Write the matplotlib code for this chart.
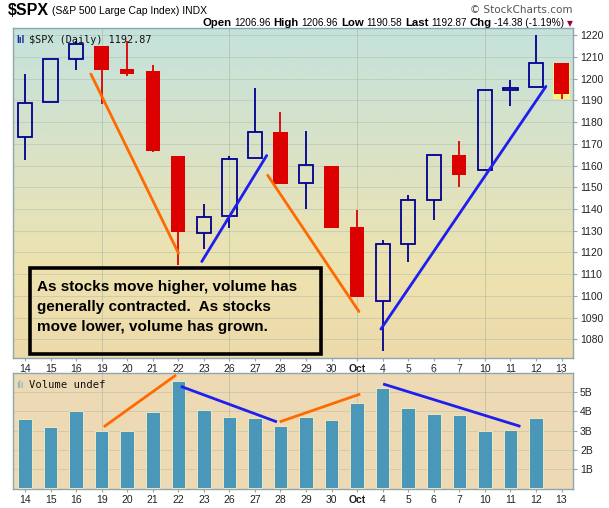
import numpy as np
import matplotlib.pyplot as plt
from matplotlib.colors import LinearSegmentedColormap
from matplotlib.patches import Rectangle
from matplotlib.offsetbox import TextArea, HPacker, AnnotationBbox

plt.rcParams['font.family'] = ['Liberation Sans', 'DejaVu Sans']

# --- data ---
dates = ['14', '15', '16', '19', '20', '21', '22', '23', '26', '27', '28', '29',
         '30', 'Oct', '4', '5', '6', '7', '10', '11', '12', '13']
opens = [1173.2, 1189.2, 1209.0, 1215.1, 1204.5, 1203.6, 1164.6, 1129.1, 1136.7, 1163.5, 1175.5,
         1152.0, 1160.0, 1131.5, 1097.7, 1123.9, 1144.2, 1165.0, 1157.8, 1194.6, 1196.0, 1206.96]
highs = [1202.2, 1209.0, 1217.4, 1215.1, 1217.4, 1206.4, 1164.6, 1142.1, 1164.6, 1195.7, 1184.6,
         1176.1, 1160.0, 1139.3, 1125.6, 1146.2, 1165.4, 1171.5, 1194.7, 1199.5, 1220.1, 1206.96]
lows = [1162.4, 1189.2, 1204.1, 1188.3, 1201.0, 1166.4, 1114.1, 1121.7, 1131.1, 1163.5, 1151.3,
        1139.8, 1131.1, 1099.5, 1074.7, 1115.6, 1134.7, 1150.0, 1157.8, 1187.2, 1196.0, 1190.58]
closes = [1188.8, 1209.0, 1215.9, 1203.8, 1201.9, 1166.6, 1129.4, 1136.4, 1163.1, 1175.5, 1151.3,
          1160.1, 1131.1, 1099.5, 1123.9, 1144.2, 1164.7, 1155.5, 1194.7, 1195.8, 1207.1, 1192.87]
volume_b = [3.60, 3.18, 4.02, 2.99, 2.99, 3.97, 5.59, 4.07, 3.71, 3.65, 3.24, 3.71,
            3.55, 4.44, 5.23, 4.18, 3.87, 3.81, 2.99, 3.04, 3.65]

# hand-drawn trend lines: (x0, y0, x1, y1, colour)
price_lines = [(2.58, 1202.1, 6.01, 1119.6, 'orange'), (6.92, 1115.8, 9.46, 1164.6, 'blue'),
               (9.50, 1155.5, 13.07, 1092.8, 'orange'), (13.93, 1084.7, 20.39, 1196.4, 'blue')]
volume_lines = [(3.13, 3.24, 5.87, 5.87, 'orange'), (6.15, 5.29, 9.81, 3.48, 'blue'),
                (10.02, 3.48, 13.07, 4.89, 'orange'), (14.07, 5.42, 19.34, 3.24, 'blue')]
price_ticks = list(range(1080, 1221, 10))
volume_ticks = [1, 2, 3, 4, 5]
monday_idx = [3, 8, 13, 18]

RED = '#dd0000'
NAVY = '#00008e'
LINE_COLORS = {'orange': '#ff6a00', 'blue': '#1e1ef0'}
SPINE = '#8fa6ad'
GRID = '#a9b8a8'

fig = plt.figure(figsize=(6.09, 5.08), dpi=100)
W, H = 609, 508
ax = fig.add_axes([13 / W, 1 - 358 / H, 560 / W, 330 / H])
axv = fig.add_axes([13 / W, 1 - 489 / H, 560 / W, 115.7 / H])
x = np.arange(len(dates))

# background gradient for price panel
grad = LinearSegmentedColormap.from_list(
    'bg', [(0, '#eedaaa'), (0.28, '#ede3b0'), (0.55, '#dee2c2'), (1, '#c4e2dc')])
ax.imshow(np.linspace(0, 1, 256).reshape(-1, 1), cmap=grad, origin='lower',
          extent=[0, 1, 0, 1], transform=ax.transAxes, aspect='auto', zorder=0)
axv.set_facecolor('#eddab4')

# candles
bw = 0.56
for i in x:
    o, h, l, c = opens[i], highs[i], lows[i], closes[i]
    lo_b, hi_b = min(o, c), max(o, c)
    if i == len(x) - 1:
        ax.bar(i, h - l, bottom=l, width=bw + 0.12, color='#fff27a', zorder=2)
    if c >= o:
        ax.bar(i, max(hi_b - lo_b, 0.4), bottom=lo_b, width=bw, facecolor='none',
               edgecolor=NAVY, linewidth=1.3, zorder=3)
        col = NAVY
    else:
        ax.bar(i, hi_b - lo_b, bottom=lo_b, width=bw, color=RED, linewidth=0, zorder=3)
        col = RED
    if h > hi_b:
        ax.vlines(i, hi_b, h, color=col, linewidth=1.3, zorder=3)
    if l < lo_b:
        ax.vlines(i, l, lo_b, color=col, linewidth=1.3, zorder=3)

for x0, y0, x1, y1, c in price_lines:
    ax.plot([x0, x1], [y0, y1], color=LINE_COLORS[c], linewidth=2, zorder=4,
            solid_capstyle='round')

ax.set_xlim(-0.47, 21.45)
ax.set_ylim(1071.4, 1223.3)

# volume bars
axv.bar(x[:len(volume_b)], volume_b, width=0.53, color='#4a97ba', edgecolor='#f6efbe',
        linewidth=0.6, zorder=3)
for x0, y0, x1, y1, c in volume_lines:
    axv.plot([x0, x1], [y0, y1], color=LINE_COLORS[c], linewidth=2, zorder=4)
axv.set_xlim(-0.47, 21.45)
axv.set_ylim(-0.06, 6.0)

for a, yt, labs in [(ax, price_ticks, [str(t) for t in price_ticks]),
                    (axv, volume_ticks, ['%dB' % t for t in volume_ticks])]:
    a.yaxis.tick_right()
    a.set_yticks(yt)
    a.set_yticklabels(labs)
    a.set_xticks(x)
    a.set_xticklabels(dates)
    a.tick_params(axis='y', length=3, width=0.8, color=SPINE, labelsize=7.5, pad=2,
                  labelcolor='#222222')
    a.tick_params(axis='x', length=2, width=0.8, color=SPINE, labelsize=7.5, pad=2,
                  labelcolor='#222222')
    for lab in a.get_xticklabels():
        if lab.get_text() == 'Oct':
            lab.set_fontweight('bold')
    for s in a.spines.values():
        s.set_color(SPINE)
        s.set_linewidth(1)
    for t in yt:
        a.axhline(t, color=GRID, linewidth=0.7, alpha=0.45, zorder=1)
    for m in monday_idx:
        a.axvline(m, color=GRID, linewidth=0.7, alpha=0.6, zorder=1)

# volume x labels also on top
axv.tick_params(axis='x', top=True, labeltop=False)

# legends inside panels
ax.text(0.028, 0.978, '$SPX (Daily) 1192.87', transform=ax.transAxes, ha='left', va='top',
        family='DejaVu Sans Mono', fontsize=7.3, color='#111111', zorder=5)
ax.text(0.006, 0.978, 'lıl', transform=ax.transAxes, ha='left', va='top',
        fontsize=7, color='#1a2a9a', fontweight='bold', zorder=5)
axv.text(0.028, 0.94, 'Volume undef', transform=axv.transAxes, ha='left', va='top',
         family='DejaVu Sans Mono', fontsize=7.6, color='#111111', zorder=5)
axv.text(0.006, 0.94, 'ılı', transform=axv.transAxes, ha='left', va='top',
         fontsize=7, color='#7aaac0', zorder=5)

# annotation box
ax.add_patch(Rectangle(((30 - 13) / 560, 4 / 330), 291 / 560, 86.3 / 330,
                       transform=ax.transAxes, facecolor='none', edgecolor='black',
                       linewidth=2.6, zorder=6))
note = ['As stocks move higher, volume has',
        'generally contracted.  As stocks',
        'move lower, volume has grown.']
for k, line in enumerate(note):
    ax.text((37 - 13) / 560, (358 - 286.7 - 20 * k) / 330, line, transform=ax.transAxes,
            ha='left', va='center', fontsize=11, fontweight='bold', color='black', zorder=6)

# header
fig.text(8 / W, 1 - 10.5 / H, '$SPX', fontsize=11.5, fontweight='bold', va='center')
fig.text(52 / W, 1 - 10.5 / H, '(S&P 500 Large Cap Index) INDX', fontsize=7.5, va='center')
fig.text(573 / W, 1 - 10 / H, '\u00a9 StockCharts.com', fontsize=7.5, color='#555555',
         ha='right', va='center', family='DejaVu Sans')

parts = [('Open', True), ('1206.96', False), ('High', True), ('1206.96', False),
         ('Low', True), ('1190.58', False), ('Last', True), ('1192.87', False),
         ('Chg', True), ('-14.38 (-1.19%)', False)]
areas = [TextArea(t, textprops=dict(fontsize=8.2 if b else 7.2,
                                    fontweight='bold' if b else 'normal'))
         for t, b in parts]
areas.append(TextArea('\u25bc', textprops=dict(fontsize=5.5, color='#99003a',
                                                family='DejaVu Sans')))
pack = HPacker(children=areas, align='baseline', pad=0, sep=2.0)
ab = AnnotationBbox(pack, (573, H - 23), xycoords='figure pixels', box_alignment=(1, 0.5),
                    frameon=False, pad=0)
fig.add_artist(ab)

fig.savefig('out.png', dpi=100)
plt.close(fig)
